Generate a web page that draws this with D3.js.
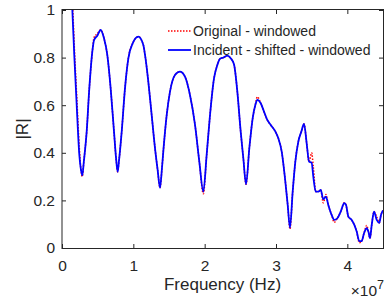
<!DOCTYPE html>
<html><head><meta charset="utf-8">
<script src="https://cdn.jsdelivr.net/npm/d3@7"></script>
<style>html,body{margin:0;padding:0;background:#fff;overflow:hidden}</style>
</head><body>
<svg id="chart" width="385" height="304"></svg>
<script>
// Frequency in units of 1e7 Hz
const freq = [0.13,0.145,0.172,0.206,0.243,0.265,0.285,0.305,0.346,0.383,0.425,0.45,0.495,0.542,0.589,0.635,0.682,0.729,0.76,0.78,0.80,0.837,0.883,0.93,0.991,1.07,1.14,1.164,1.21,1.257,1.304,1.34,1.374,1.40,1.42,1.468,1.514,1.584,1.654,1.724,1.794,1.865,1.925,1.981,2.028,2.075,2.131,2.178,2.215,2.262,2.318,2.365,2.411,2.458,2.505,2.542,2.58,2.626,2.673,2.71,2.738,2.786,2.832,2.878,2.926,2.986,3.033,3.08,3.126,3.164,3.196,3.234,3.271,3.313,3.355,3.393,3.43,3.463,3.50,3.523,3.557,3.593,3.627,3.663,3.70,3.733,3.78,3.817,3.86,3.907,3.957,3.981,4.014,4.061,4.098,4.131,4.168,4.201,4.234,4.271,4.295,4.318,4.342,4.374,4.412,4.448,4.472,4.5];
const incidentShiftedWindowed = [1.08,1.0,0.811,0.601,0.391,0.33,0.305,0.36,0.489,0.671,0.825,0.874,0.892,0.916,0.881,0.811,0.671,0.489,0.37,0.32,0.37,0.489,0.671,0.797,0.86,0.888,0.853,0.811,0.699,0.559,0.419,0.33,0.253,0.33,0.405,0.559,0.657,0.727,0.741,0.72,0.643,0.517,0.363,0.237,0.391,0.559,0.713,0.769,0.795,0.80,0.808,0.797,0.772,0.657,0.489,0.377,0.268,0.419,0.545,0.601,0.622,0.608,0.573,0.538,0.517,0.492,0.461,0.405,0.293,0.181,0.085,0.237,0.363,0.447,0.489,0.521,0.44,0.363,0.358,0.30,0.237,0.237,0.244,0.205,0.216,0.181,0.139,0.118,0.125,0.153,0.188,0.181,0.132,0.118,0.097,0.069,0.029,0.029,0.062,0.083,0.069,0.041,0.097,0.153,0.118,0.106,0.139,0.158];
const originalWindowed = [1.1,1.04,0.85,0.64,0.42,0.33,0.30,0.36,0.489,0.671,0.825,0.885,0.90,0.916,0.881,0.811,0.671,0.489,0.37,0.32,0.37,0.489,0.671,0.797,0.86,0.888,0.853,0.811,0.699,0.559,0.419,0.33,0.253,0.33,0.405,0.559,0.657,0.727,0.741,0.72,0.643,0.517,0.363,0.228,0.391,0.559,0.713,0.769,0.795,0.80,0.808,0.797,0.772,0.657,0.489,0.377,0.268,0.419,0.545,0.601,0.635,0.608,0.573,0.538,0.517,0.492,0.461,0.405,0.293,0.181,0.08,0.237,0.363,0.447,0.489,0.521,0.44,0.363,0.40,0.34,0.237,0.237,0.244,0.19,0.225,0.181,0.139,0.108,0.125,0.153,0.19,0.181,0.132,0.118,0.097,0.069,0.022,0.029,0.062,0.095,0.069,0.041,0.097,0.153,0.13,0.106,0.139,0.158];
const xTicks = [0,1,2,3,4];
const yTicks = [0,0.2,0.4,0.6,0.8,1];
const seriesNames = ["Original - windowed","Incident - shifted - windowed"];
const seriesColors = ["#ff0000","#0000ff"];

const font = "'Liberation Sans', Arial, Helvetica, sans-serif";
const ink = "#262626";
const L = 62, R = 383, T = 10, B = 248;
const svg = d3.select("#chart").style("font-family", font);
const x = d3.scaleLinear().domain([0,4.5]).range([L,R]);
const y = d3.scaleLinear().domain([0,1]).range([B,T]);

svg.append("defs").append("clipPath").attr("id","clip")
  .append("rect").attr("x",L).attr("y",T).attr("width",R-L).attr("height",B-T);

const line = d3.line().x((d,i)=>x(freq[i])).y(d=>y(d)).curve(d3.curveMonotoneX);
const plot = svg.append("g").attr("clip-path","url(#clip)");
plot.append("path").attr("d", line(originalWindowed)).attr("fill","none")
  .attr("stroke",seriesColors[0]).attr("stroke-width",1.5).attr("stroke-dasharray","1.5,1.5");
plot.append("path").attr("d", line(incidentShiftedWindowed)).attr("fill","none")
  .attr("stroke",seriesColors[1]).attr("stroke-width",1.8).attr("stroke-linejoin","round");

function styleAxis(g, labels) {
  g.select(".domain").remove();
  g.selectAll(".tick line").attr("stroke", ink);
  g.selectAll(".tick text").attr("fill", ink).style("font-size","15.5px").style("font-family",font);
  if (!labels) g.selectAll(".tick text").remove();
}
svg.append("g").attr("transform",`translate(0,${B})`)
  .call(d3.axisBottom(x).tickValues(xTicks).tickSize(-4).tickPadding(12).tickFormat(d=>String(d)))
  .call(g=>styleAxis(g,true));
svg.append("g").attr("transform",`translate(0,${T})`)
  .call(d3.axisTop(x).tickValues(xTicks).tickSize(-4))
  .call(g=>styleAxis(g,false));
svg.append("g").attr("transform",`translate(${L},0)`)
  .call(d3.axisLeft(y).tickValues(yTicks).tickSize(-4).tickPadding(7).tickFormat(d=>String(+d.toFixed(1))))
  .call(g=>styleAxis(g,true));
svg.append("g").attr("transform",`translate(${R},0)`)
  .call(d3.axisRight(y).tickValues(yTicks).tickSize(-4))
  .call(g=>styleAxis(g,false));

// box
svg.append("rect").attr("x",L).attr("y",T-0.5).attr("width",R-L+0.5).attr("height",B-T+1)
  .attr("fill","none").attr("stroke",ink).attr("stroke-width",1);

// labels
svg.append("text").attr("x",(L+R)/2).attr("y",290).attr("text-anchor","middle")
  .attr("fill",ink).style("font-size","17px").text("Frequency (Hz)");
svg.append("text").attr("transform",`translate(28,${(T+B)/2}) rotate(-90)`).attr("text-anchor","middle")
  .attr("fill",ink).style("font-size","17px").text("|R|");
const ex = svg.append("text").attr("x",R+1).attr("y",296).attr("text-anchor","end")
  .attr("fill",ink).style("font-size","15.5px");
ex.append("tspan").text("×10");
ex.append("tspan").attr("dy",-7).style("font-size","12.5px").text("7");

// legend
const leg = svg.append("g");
seriesNames.forEach((n,i)=>{
  const ly = 31 + i*19;
  leg.append("line").attr("x1",168).attr("x2",191).attr("y1",ly).attr("y2",ly)
    .attr("stroke",seriesColors[i]).attr("stroke-width", i===0?1.5:1.8)
    .attr("stroke-dasharray", i===0?"1.5,1.5":null);
  leg.append("text").attr("x",193).attr("y",ly+5).attr("fill",ink)
    .style("font-size","14px").text(n);
});
</script>
</body></html>
